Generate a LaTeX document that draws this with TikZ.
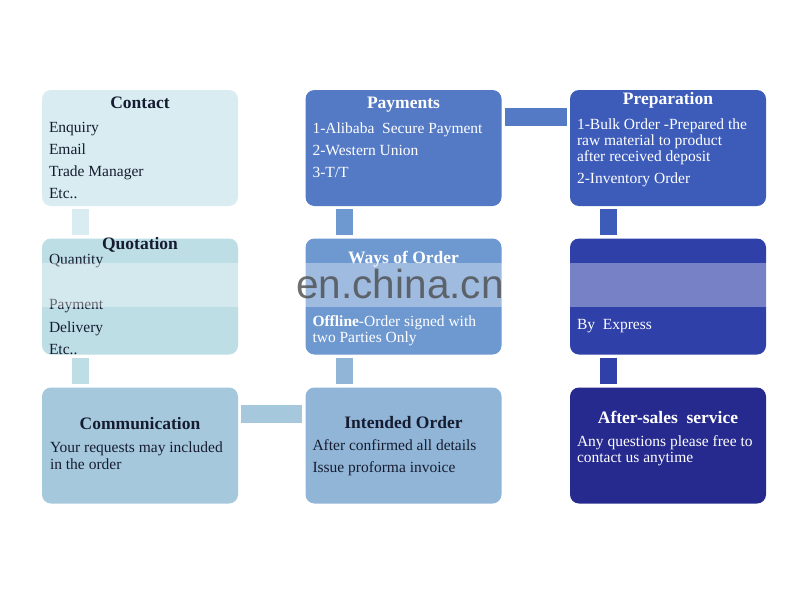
\documentclass[tikz,border=0pt]{standalone}
\usepackage{xcolor}
\usepackage{fontspec}
\setmainfont{Liberation Serif}
\newfontfamily\wmfont{Liberation Sans}
\usepackage{tikz}
\usetikzlibrary{calc}

\definecolor{cContact}{RGB}{216,236,241}
\definecolor{cQuote}{RGB}{190,222,230}
\definecolor{cComm}{RGB}{166,200,221}
\definecolor{cIntend}{RGB}{145,181,215}
\definecolor{cWays}{RGB}{110,152,208}
\definecolor{cPay}{RGB}{84,122,198}
\definecolor{cPrep}{RGB}{61,92,186}
\definecolor{cShip}{RGB}{47,64,168}
\definecolor{cAfter}{RGB}{38,42,142}
\definecolor{tulisan}{RGB}{22,28,48}

\begin{document}
\begin{tikzpicture}[
    x=1pt, y=-1pt,
    kotak/.style={rounded corners=9pt, minimum width=196pt, minimum height=116pt,
                  inner sep=0pt},
    judul/.style={anchor=base, inner sep=0pt, text=tulisan,
                  font=\bfseries\fontsize{17.5}{20}\selectfont},
    isi/.style={anchor=north west, inner sep=0pt, align=left, text=tulisan,
                font=\fontsize{15.5}{16}\selectfont},
    sambung/.style={line width=17pt}
  ]
    \useasboundingbox[fill=white] (0,0) rectangle (800,600);

    % kotak
    \node[kotak, fill=cContact] (contact) at (140,148) {};
    \node[kotak, fill=cQuote] (quotation) at (140,296.5) {};
    \node[kotak, fill=cComm] (communication) at (140,445.5) {};
    \node[kotak, fill=cPay] (payments) at (403.5,148) {};
    \node[kotak, fill=cWays] (ways) at (403.5,296.5) {};
    \node[kotak, fill=cIntend] (intended) at (403.5,445.5) {};
    \node[kotak, fill=cPrep] (preparation) at (668,148) {};
    \node[kotak, fill=cShip] (shipping) at (668,296.5) {};
    \node[kotak, fill=cAfter] (aftersales) at (668,445.5) {};

    % penyambung
    \draw[sambung, cContact] ([shift={(39,3)}]contact.south west)
      -- ([shift={(39,-3)}]quotation.north west);
    \draw[sambung, cQuote] ([shift={(39,3)}]quotation.south west)
      -- ([shift={(39,-3)}]communication.north west);
    \draw[sambung, cComm, line width=18pt] ([shift={(3,27)}]communication.north east)
      -- ([shift={(-3,27)}]intended.north west);
    \draw[sambung, cIntend] ([shift={(39,-3)}]intended.north west)
      -- ([shift={(39,3)}]ways.south west);
    \draw[sambung, cWays] ([shift={(39,-3)}]ways.north west)
      -- ([shift={(39,3)}]payments.south west);
    \draw[sambung, cPay, line width=18pt] ([shift={(3,27)}]payments.north east)
      -- ([shift={(-3,27)}]preparation.north west);
    \draw[sambung, cPrep] ([shift={(39,3)}]preparation.south west)
      -- ([shift={(39,-3)}]shipping.north west);
    \draw[sambung, cShip] ([shift={(39,3)}]shipping.south west)
      -- ([shift={(39,-3)}]aftersales.north west);

    % teks
    \node[judul] (contact-t) at ($(contact.north)+(0,18.5)$) {Contact};
    \node[isi] (contact-b) at ($(contact.north west)+(7,32.5)$)
      {Enquiry\\[6pt]Email\\[6pt]Trade Manager\\[6pt]Etc..};
    \node[judul] (quotation-t) at ($(quotation.north)+(0,11)$) {Quotation};
    \node[isi] (quotation-b) at ($(quotation.north west)+(7,16)$)
      {Quantity\\[29pt]Payment\\[6.5pt]Delivery\\[6pt]Etc..};
    \node[judul] (communication-t) at ($(communication.north)+(0,42.5)$) {Communication};
    \node[isi] (communication-b) at ($(communication.north west)+(8,54.5)$)
      {Your requests may included\\[0.5pt]in the order};
    \node[judul] (intended-t) at ($(intended.north)+(0,41)$) {Intended Order};
    \node[isi] (intended-b) at ($(intended.north west)+(7,52)$)
      {After confirmed all details\\[6.5pt]Issue proforma invoice};

    \node[judul, text=white] (payments-t) at ($(payments.north)+(0,19)$) {Payments};
    \node[isi, text=white] (payments-b) at ($(payments.north west)+(7,32.5)$)
      {1-Alibaba\ \ Secure Payment\\[6.5pt]2-Western Union\\[6pt]3-T/T};
    \node[judul, text=white] (ways-t) at ($(ways.north)+(0,25)$) {Ways of Order};
    \node[isi, text=white] (ways-b) at ($(ways.north west)+(7,77)$)
      {\textbf{Offline}-Order signed with\\two Parties Only};
    \node[judul, text=white] (preparation-t) at ($(preparation.north)+(0,15)$) {Preparation};
    \node[isi, text=white] (preparation-b) at ($(preparation.north west)+(7,28.5)$)
      {1-Bulk Order -Prepared the\\raw material to product\\after received deposit\\[6.5pt]2-Inventory Order};
    \node[isi, text=white] (shipping-b) at ($(shipping.north west)+(7,81)$) {By\ \ Express};
    \node[judul, text=white] (aftersales-t) at ($(aftersales.north)+(0,36)$) {After-sales\ \ service};
    \node[isi, text=white] (aftersales-b) at ($(aftersales.north west)+(7,48.5)$)
      {Any questions please free to\\contact us anytime};

    % watermark
    \fill[white, opacity=0.35] (0,263) rectangle (800,307);
    \node[anchor=base, inner sep=0pt, text=black!70, opacity=0.8,
          font=\wmfont\fontsize{40.5}{40}\selectfont] (watermark) at (400,298) {en.china.cn};
  \end{tikzpicture}
\end{document}
